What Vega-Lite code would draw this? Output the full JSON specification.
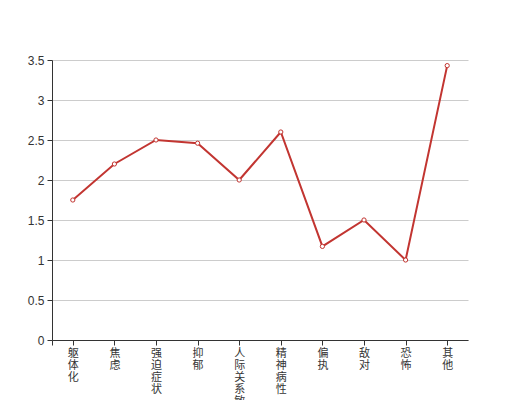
{
  "$schema": "https://vega.github.io/schema/vega-lite/v6.json",
  "width": 416,
  "height": 280,
  "autosize": {"type": "none"},
  "padding": {"left": 52, "top": 60, "right": 52, "bottom": 60},
  "background": "white",
  "config": {"view": {"stroke": null}, "font": "Noto Sans CJK SC"},
  "data": {
    "values": [
      {"factor": "躯体化", "score": 1.75},
      {"factor": "焦虑", "score": 2.2},
      {"factor": "强迫症状", "score": 2.5},
      {"factor": "抑郁", "score": 2.46},
      {"factor": "人际关系敏感", "score": 2.0},
      {"factor": "精神病性", "score": 2.6},
      {"factor": "偏执", "score": 1.17},
      {"factor": "敌对", "score": 1.5},
      {"factor": "恐怖", "score": 1.0},
      {"factor": "其他", "score": 3.43}
    ]
  },
  "mark": {
    "type": "line",
    "color": "#c23531",
    "strokeWidth": 2,
    "point": {"filled": true, "fill": "white", "stroke": "#c23531", "strokeWidth": 1, "size": 18}
  },
  "encoding": {
    "x": {
      "field": "factor",
      "type": "nominal",
      "sort": null,
      "scale": {"paddingInner": 0, "paddingOuter": 0},
      "axis": {
        "title": null,
        "labelAngle": 0,
        "labelExpr": "split(datum.label, '')",
        "labelLineHeight": 12,
        "labelFontSize": 11,
        "labelColor": "#333",
        "labelPadding": 2,
        "labelBaseline": "top",
        "labelFont": "Noto Sans CJK SC",
        "labelOverlap": false,
        "domainColor": "#333",
        "tickColor": "#333",
        "tickSize": 5,
        "bandPosition": 0,
        "tickExtra": true,
        "grid": false
      }
    },
    "y": {
      "field": "score",
      "type": "quantitative",
      "scale": {"domain": [0, 3.5], "nice": false},
      "axis": {
        "title": null,
        "values": [0, 0.5, 1, 1.5, 2, 2.5, 3, 3.5],
        "format": "~g",
        "labelFontSize": 12,
        "labelColor": "#333",
        "labelFont": "sans-serif",
        "labelPadding": 3,
        "domainColor": "#333",
        "tickColor": "#333",
        "tickSize": 5,
        "gridColor": "#ccc",
        "grid": true
      }
    }
  }
}
